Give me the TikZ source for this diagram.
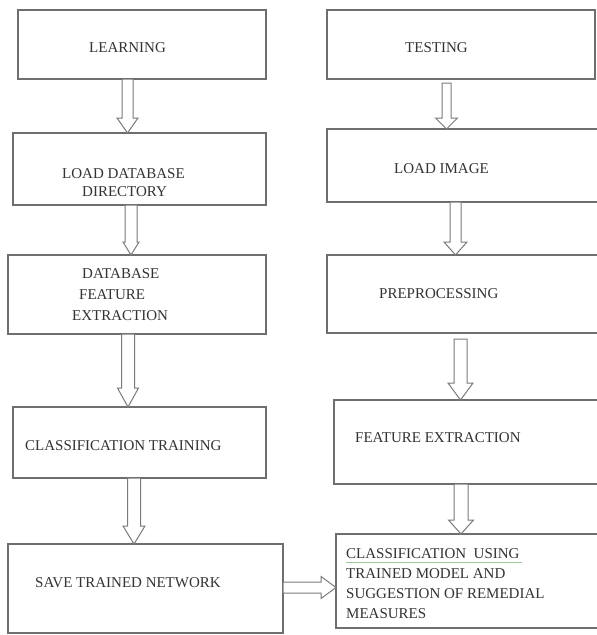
\documentclass[tikz,border=0pt]{standalone}
\usepackage{fontspec}
\setmainfont{Liberation Serif}
\usetikzlibrary{calc}
\definecolor{boxgray}{HTML}{6E6E6E}
\definecolor{arrgray}{HTML}{7A7A7A}
\definecolor{txtgray}{HTML}{333333}
\definecolor{spellgreen}{HTML}{9CC89C}
\tikzset{
  box/.style={draw=boxgray, line width=1.3pt, rectangle, inner sep=0pt, outer sep=0pt, anchor=north west},
  txt/.style={anchor=north west, inner sep=0pt, align=left, text=txtgray, font=\fontsize{15}{18}\selectfont},
  blockarr/.style={draw=arrgray, line width=1pt, fill=white, line join=miter},
}
% vertical block arrow: from, to, x-centre, shaft half width, head half width, head length, gap
\newcommand\vblock[7]{%
  \draw[blockarr] let \p1=(#1.south), \p2=(#2.north) in
    (#3pt-#4pt,\y1-#7pt) -- (#3pt-#4pt,\y2+#6pt) -- (#3pt-#5pt,\y2+#6pt) -- (#3pt,\y2)
    -- (#3pt+#5pt,\y2+#6pt) -- (#3pt+#4pt,\y2+#6pt) -- (#3pt+#4pt,\y1-#7pt) -- cycle;}
% horizontal block arrow: from, to, y-centre (downwards), shaft half width, head half width, head length
\newcommand\hblock[6]{%
  \draw[blockarr] let \p1=(#1.east), \p2=(#2.west) in
    (\x1,-#3pt+#4pt) -- (\x2-#6pt,-#3pt+#4pt) -- (\x2-#6pt,-#3pt+#5pt) -- (\x2,-#3pt)
    -- (\x2-#6pt,-#3pt-#5pt) -- (\x2-#6pt,-#3pt-#4pt) -- (\x1,-#3pt-#4pt) -- cycle;}
\begin{document}
\begin{tikzpicture}[x=1pt,y=-1pt]
\useasboundingbox (0,0) rectangle (597,635);
\clip (0,0) rectangle (597,635);
\fill[white] (0,0) rectangle (597,635);
% left column boxes
\node[box, minimum width=248pt, minimum height=69pt] (learn) at (18,10) {};
\node[box, minimum width=253pt, minimum height=72pt] (loaddb) at (13,133) {};
\node[box, minimum width=258pt, minimum height=79pt] (dbfe) at (8,255) {};
\node[box, minimum width=253pt, minimum height=71pt] (ctrain) at (13,407) {};
\node[box, minimum width=275pt, minimum height=89pt] (save) at (8,544) {};
% right column boxes
\node[box, minimum width=268pt, minimum height=69pt] (test) at (327,10) {};
\node[box, minimum width=278pt, minimum height=73pt] (loadimg) at (327,129) {};
\node[box, minimum width=278pt, minimum height=78pt] (prep) at (327,255) {};
\node[box, minimum width=271pt, minimum height=84pt] (fext) at (334,400) {};
\node[box, minimum width=269pt, minimum height=94pt] (cuse) at (336,534) {};
% texts
\node[txt] (tlearn) at (89,42) {LEARNING};
\node[txt] (ttest) at (405,42) {TESTING};
\node[txt] (tloaddb) at (62,168) {LOAD DATABASE\\\hspace*{20pt}DIRECTORY};
\node[txt] (tloadimg) at (394,163) {LOAD IMAGE};
\node[txt, font=\fontsize{15}{21}\selectfont] (tdbfe) at (72,268) {\hspace*{10pt}DATABASE\\\hspace*{7pt}FEATURE\\EXTRACTION};
\node[txt] (tprep) at (379,288) {PREPROCESSING};
\node[txt] (tctrain) at (25,440) {CLASSIFICATION TRAINING};
\node[txt] (tfext) at (355,432) {FEATURE EXTRACTION};
\node[txt] (tsave) at (35,577) {SAVE TRAINED NETWORK};
\node[txt, font=\fontsize{15}{20}\selectfont] (tcuse) at (346,548) {CLASSIFICATION\ \ USING\\TRAINED MODEL AND\\SUGGESTION OF REMEDIAL\\MEASURES};
\draw[spellgreen, line width=0.9pt] (346,562) -- (522,562);
% arrows
\vblock{learn}{loaddb}{127.5}{5.5}{10.5}{15}{0}
\vblock{loaddb}{dbfe}{131}{6}{8}{13}{0}
\vblock{dbfe}{ctrain}{128}{6.5}{10.5}{19}{0}
\vblock{ctrain}{save}{134}{6.5}{11}{18}{0}
\vblock{test}{loadimg}{446.5}{4.5}{11}{11}{4}
\vblock{loadimg}{prep}{455.5}{5.5}{11.5}{13}{0}
\vblock{prep}{fext}{460.5}{6.5}{12.5}{17}{6}
\vblock{fext}{cuse}{461}{7}{12.5}{14}{0}
\hblock{save}{cuse}{587.5}{5.5}{11}{15}
\end{tikzpicture}
\end{document}
